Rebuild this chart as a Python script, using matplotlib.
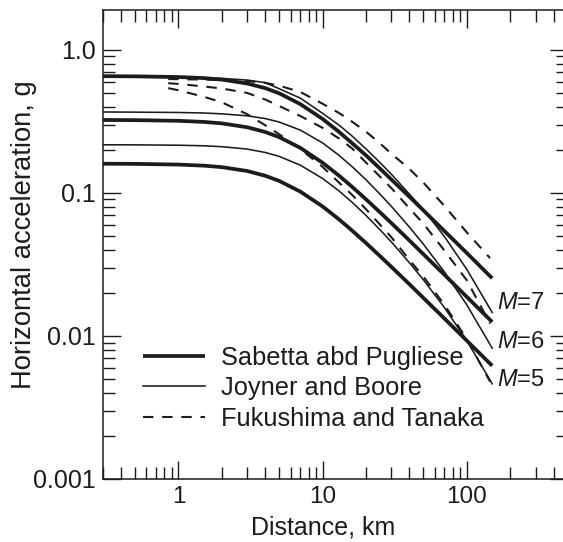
import matplotlib
matplotlib.use("Agg")
import matplotlib.pyplot as plt
from matplotlib.ticker import LogLocator, NullFormatter, FixedLocator, FixedFormatter

plt.rcParams['font.family'] = ['Liberation Sans', 'DejaVu Sans']
plt.rcParams['mathtext.fontset'] = 'custom'
plt.rcParams['mathtext.it'] = 'Liberation Sans:italic'
plt.rcParams['mathtext.rm'] = 'Liberation Sans'

# ---- data ----
dist = [0.3, 0.5, 1, 1.5, 2, 3, 4, 5, 7, 10, 13, 16, 20, 25, 30, 40, 50, 70, 100, 150]

sp_m7 = [0.655, 0.653, 0.646, 0.635, 0.620, 0.582, 0.540, 0.497, 0.418, 0.329, 0.267, 0.223,
         0.183, 0.148, 0.124, 0.094, 0.0755, 0.0541, 0.0380, 0.0253]
sp_m6 = [0.3235, 0.3227, 0.3192, 0.3136, 0.3063, 0.2877, 0.2667, 0.2454, 0.2067, 0.1625, 0.132,
         0.1104, 0.0902, 0.0732, 0.0615, 0.0465, 0.0373, 0.02675, 0.01876, 0.01252]
sp_m5 = [0.160, 0.1596, 0.1578, 0.1551, 0.1514, 0.1423, 0.1318, 0.1213, 0.1022, 0.0804, 0.0653,
         0.0546, 0.0446, 0.0362, 0.0304, 0.0230, 0.01845, 0.01323, 0.00927, 0.00619]

jb_m7 = [0.645, 0.644, 0.642, 0.638, 0.632, 0.615, 0.590, 0.535, 0.460, 0.360, 0.298, 0.250,
         0.203, 0.163, 0.135, 0.098, 0.0765, 0.0495, 0.0292, 0.0146]
jb_m6 = [0.368, 0.367, 0.365, 0.362, 0.357, 0.346, 0.331, 0.313, 0.275, 0.2237, 0.183, 0.1528,
         0.1235, 0.0981, 0.0805, 0.0577, 0.0438, 0.0280, 0.0165, 0.00821]
jb_m5 = [0.217, 0.2168, 0.2155, 0.2135, 0.2105, 0.2025, 0.1918, 0.180, 0.1564, 0.1261, 0.1032,
         0.0861, 0.0696, 0.0553, 0.0454, 0.0325, 0.0247, 0.01578, 0.00929, 0.00463]

dist_ft = [0.85, 1, 1.5, 2, 3, 4, 5, 7, 10, 13, 16, 20, 25, 30, 40, 50, 70, 100, 145]
ft_m7 = [0.625, 0.624, 0.620, 0.615, 0.605, 0.588, 0.562, 0.508, 0.420, 0.362, 0.315, 0.268,
         0.222, 0.188, 0.147, 0.118, 0.081, 0.053, 0.035]
ft_m6 = [0.585, 0.578, 0.555, 0.537, 0.500, 0.450, 0.405, 0.345, 0.285, 0.240, 0.205, 0.163,
         0.130, 0.108, 0.078, 0.061, 0.0395, 0.0245, 0.0122]
ft_m5 = [0.540, 0.522, 0.470, 0.430, 0.355, 0.297, 0.257, 0.203, 0.152, 0.118, 0.097, 0.077,
         0.060, 0.049, 0.034, 0.026, 0.0165, 0.0095, 0.0048]

legend_labels = ["Sabetta abd Pugliese", "Joyner and Boore", "Fukushima and Tanaka"]
mag_labels = ["$M$=7", "$M$=6", "$M$=5"]
mag_label_x = [162, 162, 162]
mag_label_y = [0.0170, 0.0091, 0.0049]

xtick_vals = [1, 10, 100]
xtick_labels = ["1", "10", "100"]
ytick_vals = [0.001, 0.01, 0.1, 1.0]
ytick_labels = ["0.001", "0.01", "0.1", "1.0"]

# ---- figure ----
W, H = 563, 542
fig = plt.figure(figsize=(W / 100, H / 100), dpi=100)
left, right, bottom, top = 103, 567.6, 479, 10
ax = fig.add_axes([left / W, 1 - bottom / H, (right - left) / W, (bottom - top) / H])

col = '#1c1c1c'
thick = dict(color=col, lw=2.7, solid_capstyle='butt')
thin = dict(color=col, lw=1.15)
dash = dict(color=col, lw=1.5, linestyle=(0, (5.0, 4.2)))

l1, = ax.plot(dist, sp_m7, **thick)
ax.plot(dist, sp_m6, **thick)
ax.plot(dist, sp_m5, **thick)
l2, = ax.plot(dist, jb_m7, **thin)
ax.plot(dist, jb_m6, **thin)
ax.plot(dist, jb_m5, **thin)
l3, = ax.plot(dist_ft, ft_m7, **dash)
ax.plot(dist_ft, ft_m6, **dash)
ax.plot(dist_ft, ft_m5, **dash)

ax.set_xscale('log')
ax.set_yscale('log')
ax.set_xlim(0.3, 500)
ax.set_ylim(0.001, 1.9)

ax.xaxis.set_major_locator(FixedLocator(xtick_vals))
ax.xaxis.set_major_formatter(FixedFormatter(xtick_labels))
ax.xaxis.set_minor_locator(LogLocator(base=10, subs=range(2, 10), numticks=20))
ax.xaxis.set_minor_formatter(NullFormatter())
ax.yaxis.set_major_locator(FixedLocator(ytick_vals))
ax.yaxis.set_major_formatter(FixedFormatter(ytick_labels))
ax.yaxis.set_minor_locator(LogLocator(base=10, subs=range(2, 10), numticks=20))
ax.yaxis.set_minor_formatter(NullFormatter())

ax.tick_params(which='both', direction='in', top=True, right=True, color=col, width=1.0)
ax.tick_params(which='major', length=13, pad=5, labelcolor=col)
ax.tick_params(axis='y', which='major', labelsize=18)
ax.tick_params(axis='x', which='major', labelsize=17.5)
ax.tick_params(which='minor', length=8.5)
for s in ax.spines.values():
    s.set_linewidth(1.1)
    s.set_color(col)

ax.set_xlabel("Distance, km", fontsize=18, color=col, va='center')
ax.xaxis.set_label_coords((323 - left) / (right - left), (bottom - 527) / (bottom - top))
ax.set_ylabel("Horizontal acceleration, g", fontsize=19.7, color=col, va='center')
ax.yaxis.set_label_coords((24 - left) / (right - left), (bottom - 235) / (bottom - top))

for t, xx, yy in zip(mag_labels, mag_label_x, mag_label_y):
    ax.text(xx, yy, t, fontsize=17, color=col, ha='left', va='center')

fs = 18.3
leg = ax.legend([l1, l2, l3], legend_labels, frameon=False, fontsize=fs,
                loc='upper left', bbox_to_anchor=(143 / W, 1 - 346 / H),
                bbox_transform=fig.transFigure, borderpad=0, borderaxespad=0,
                handlelength=2.44, handletextpad=0.63, labelspacing=0.25)
for t in leg.get_texts():
    t.set_color(col)

fig.savefig("out.png", dpi=100)
